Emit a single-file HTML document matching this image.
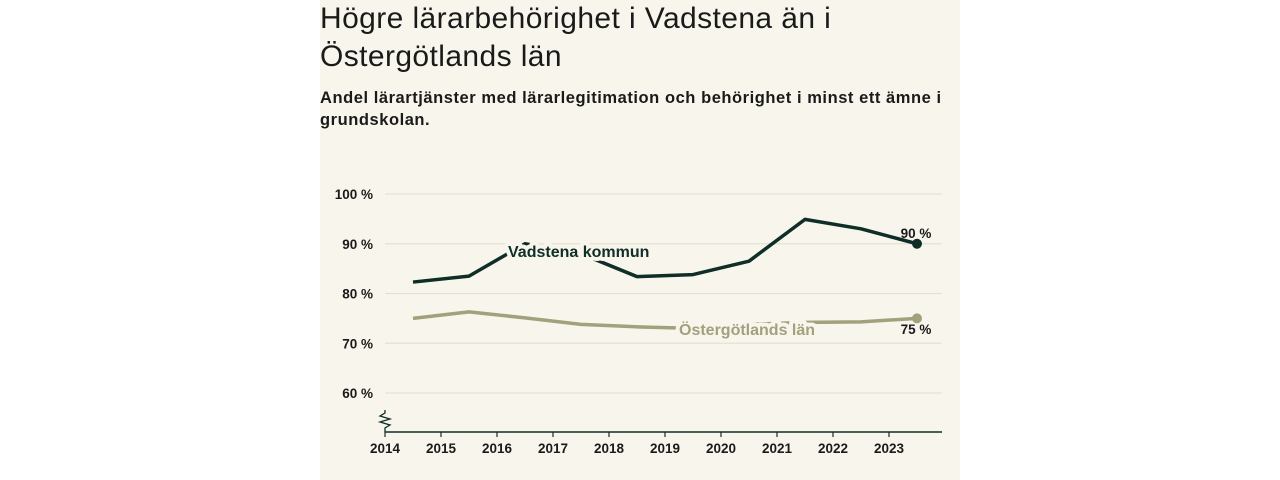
<!DOCTYPE html>
<html><head><meta charset="utf-8">
<style>
html,body{margin:0;padding:0;width:1280px;height:480px;background:#fff;overflow:hidden;font-family:"Liberation Sans",sans-serif;}
#card{position:absolute;left:320px;top:0;width:640px;height:480px;background:#f8f6ec;}
#title{position:absolute;left:0;top:0;margin:0;font-size:30px;font-weight:normal;line-height:38px;color:#1a1a1a;letter-spacing:0.4px;white-space:nowrap;}
#sub{position:absolute;left:0;top:87px;margin:0;font-size:16.5px;font-weight:bold;line-height:22px;color:#1a1a1a;width:640px;letter-spacing:0.55px;}
svg{position:absolute;left:0;top:0;}
</style></head><body>
<div id="card">
<h1 id="title">Högre lärarbehörighet i Vadstena än i<br>Östergötlands län</h1>
<p id="sub">Andel lärartjänster med lärarlegitimation och behörighet i minst ett ämne i grundskolan.</p>
</div>
<svg id="chart" width="1280" height="480"></svg>
<script>
const years=[2014.5,2015.5,2016.5,2017.5,2018.5,2019.5,2020.5,2021.5,2022.5,2023.5];
const vadstena=[82.3,83.5,90,88,83.4,83.8,86.5,94.9,93,90];
const ostergotland=[75,76.3,75.1,73.8,73.3,73,73.8,74.2,74.3,75];
const yTicks=[60,70,80,90,100];
const xTicks=[2014,2015,2016,2017,2018,2019,2020,2021,2022,2023];
const NS="http://www.w3.org/2000/svg";
const svg=document.getElementById('chart');
const X=v=>385+(v-2014)*56;
const Y=v=>194+(100-v)*4.975;
function mk(t,a){const e=document.createElementNS(NS,t);for(const k in a)e.setAttribute(k,a[k]);svg.appendChild(e);return e;}
const dark="#0f2e27", light="#a3a07c";
yTicks.forEach(t=>{
 const l=mk('line',{x1:385,x2:942,y1:Y(t),y2:Y(t),stroke:'#e4e1d4','stroke-width':1.2});
 
 
 const tx=mk('text',{x:373,y:Y(t)+5,'text-anchor':'end','font-size':13.5,'font-weight':'bold',fill:'#1a1a1a'});
 tx.textContent=t+' %';
 
 
});
const ax=mk('line',{x1:385,x2:942,y1:432,y2:432,stroke:dark,'stroke-width':1.5});


const br=mk('path',{d:'M385 410 L385 413 L380 416 L390 419 L380 422 L390 425 L385 428 L385 432',fill:'none',stroke:dark,'stroke-width':1.3});


xTicks.forEach(t=>{
 const l=mk('line',{x1:X(t),x2:X(t),y1:432,y2:437,stroke:dark,'stroke-width':1.2});
 
 
 const tx=mk('text',{x:X(t),y:453,'text-anchor':'middle','font-size':13.5,'font-weight':'bold',fill:'#1a1a1a'});
 tx.textContent=t;
 
 
});
function series(vals,col,name){
 const p=mk('polyline',{points:years.map((y,i)=>X(y)+','+Y(vals[i])).join(' '),fill:'none',stroke:col,'stroke-width':3.5,'stroke-linejoin':'round'});
 
 
 const n=years.length-1;
 const c=mk('circle',{cx:X(years[n]),cy:Y(vals[n]),r:5,fill:col});
 
 
}
series(ostergotland,light,'ostergotland');
series(vadstena,dark,'vadstena');
function label(txt,x,y,col,name){
 const t=mk('text',{x:x,y:y,'font-size':16,'font-weight':'bold',fill:col,stroke:'#f8f6ec','stroke-width':8,'paint-order':'stroke','stroke-linejoin':'round'});
 t.textContent=txt;
 
 
}
label('Vadstena kommun',508,257,dark,'vadstena-label');
label('Östergötlands län',679,335,light,'ostergotland-label');
const v1=mk('text',{x:916,y:238,'text-anchor':'middle','font-size':13.5,'font-weight':'bold',fill:'#1a1a1a'});
v1.textContent=vadstena[vadstena.length-1]+' %';


const v2=mk('text',{x:916,y:334,'text-anchor':'middle','font-size':13.5,'font-weight':'bold',fill:'#1a1a1a'});
v2.textContent=ostergotland[ostergotland.length-1]+' %';


</script>
</body></html>
